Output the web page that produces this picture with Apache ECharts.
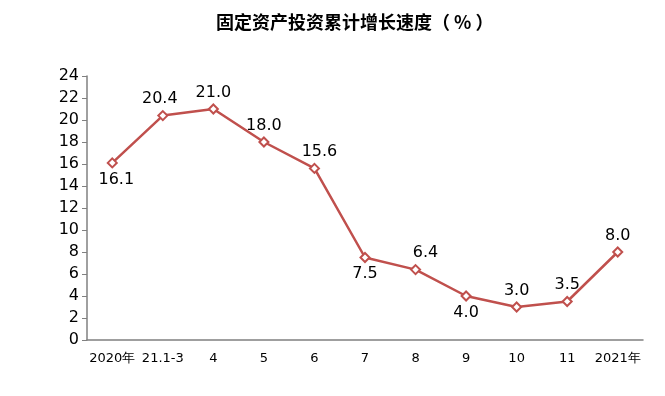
<!DOCTYPE html>
<html><head><meta charset="utf-8">
<script src="https://cdn.jsdelivr.net/npm/echarts@6/dist/echarts.min.js"></script>
<style>html,body{margin:0;padding:0;background:#fff}#c{width:665px;height:396px}</style>
</head><body><div id="c"></div>
<script>
const categories = ['2020年','21.1-3','4','5','6','7','8','9','10','11','2021年'];
const values = [16.1, 20.4, 21.0, 18.0, 15.6, 7.5, 6.4, 4.0, 3.0, 3.5, 8.0];
const labelSides = ['bottom','top','top','top','top','bottom','top','bottom','top','top','top'];
const labelShift = [[4,0],[-3,0],[0,0],[0,0],[5,0],[0,0],[10,0],[0,0],[0,0],[0,0],[0,0]];
const yTicks = [0, 24, 2];

const chart = echarts.init(document.getElementById('c'));
chart.setOption({
  animation: false,
  title: {
    text: '固定资产投资累计增长速度（ % ）',
    left: 211, top: 8,
    textStyle: {fontFamily: 'Noto Sans CJK SC', fontWeight: 'bold', fontSize: 18, color: '#000'}
  },
  grid: {left: 87, right: 22, top: 76, bottom: 56},
  xAxis: {
    type: 'category', data: categories, boundaryGap: true,
    axisLine: {lineStyle: {color: '#808080', width: 1.5}},
    axisTick: {inside: true, length: 5, lineStyle: {color: '#808080'}},
    axisLabel: {color: '#000', fontFamily: 'DejaVu Sans', fontSize: 13, margin: 12, interval: 0}
  },
  yAxis: {
    type: 'value', min: yTicks[0], max: yTicks[1], interval: yTicks[2],
    axisLine: {show: true, lineStyle: {color: '#808080', width: 1.5}},
    axisTick: {show: true, length: 5, lineStyle: {color: '#808080'}},
    splitLine: {show: false},
    axisLabel: {color: '#000', fontFamily: 'DejaVu Sans', fontSize: 16, margin: 8}
  },
  series: [{
    type: 'line',
    data: values.map((v, i) => ({
      value: v,
      label: {position: labelSides[i], offset: labelShift[i]}
    })),
    lineStyle: {color: '#c0504d', width: 2.5},
    itemStyle: {color: '#fff', borderColor: '#c0504d', borderWidth: 2},
    symbol: 'diamond', symbolSize: 9,
    label: {
      show: true, color: '#000', fontFamily: 'DejaVu Sans', fontSize: 16, distance: 3,
      formatter: p => p.value.toFixed(1)
    }
  }]
});
</script></body></html>
